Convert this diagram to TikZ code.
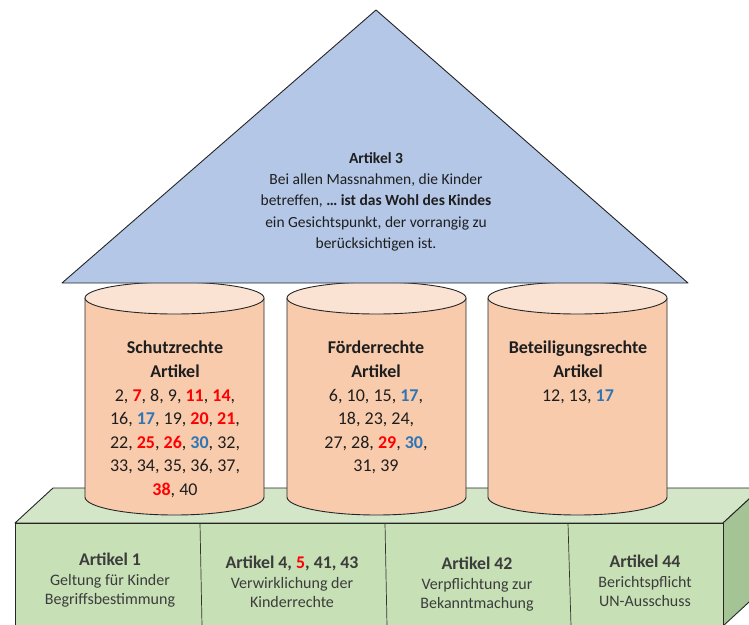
\documentclass[tikz,border=0pt]{standalone}
\usepackage{fontspec}
\setmainfont{Carlito}
\definecolor{triblue}{HTML}{B4C7E7}
\definecolor{cylbody}{HTML}{F8CBAD}
\definecolor{cyltop}{HTML}{FBE3D4}
\definecolor{topgreen}{HTML}{D3E6C8}
\definecolor{frontgreen}{HTML}{C7E0B6}
\definecolor{sidegreen}{HTML}{A4C496}
\definecolor{numred}{HTML}{FF0000}
\definecolor{numblue}{HTML}{2E75B6}
\definecolor{txtdark}{HTML}{1E1E1E}
\definecolor{txtgray}{HTML}{3C3C3C}
\newcommand\rd[1]{\textcolor{numred}{\textbf{#1}}}
\newcommand\bl[1]{\textcolor{numblue}{\textbf{#1}}}
\newcommand\bhead{\fontsize{17.8}{19.5}\selectfont\bfseries}
\newcommand\cylinderat[2]{%
  \pgfmathsetmacro\rxv{(#2-#1)/2}%
  \pgfmathsetmacro\cxv{(#1+#2)/2}%
  \fill[cylbody] (#1,298) -- (#1,497) arc[start angle=180,end angle=0,x radius=\rxv,y radius=18] -- (#2,298) -- cycle;
  \draw[outline] (#1,298) -- (#1,497) arc[start angle=180,end angle=0,x radius=\rxv,y radius=18] -- (#2,298);
  \filldraw[outline,fill=cyltop] (\cxv,298) ellipse[x radius=\rxv,y radius=16];
}
\begin{document}
\begin{tikzpicture}[x=1pt,y=-1pt,line join=round,
  outline/.style={draw=black!85,line width=0.9pt},
  tritext/.style={anchor=north,align=center,inner sep=0pt,text=txtdark,
    font=\fontsize{15.5}{21.3}\selectfont},
  cyltext/.style={anchor=north,align=center,inner sep=0pt,text=txtdark,
    font=\fontsize{18}{23.6}\selectfont},
  boxtext/.style={anchor=north,align=center,inner sep=0pt,text=txtgray,
    font=\fontsize{16}{19.3}\selectfont}]
\useasboundingbox (0,0) rectangle (749,624);
\begin{scope}
\clip (0,0) rectangle (749,624);
% base block
\filldraw[outline,fill=topgreen] (15,523) -- (53,488) -- (761,488) -- (723,523) -- cycle;
\filldraw[outline,fill=sidegreen] (723,523) -- (761,488) -- (761,591) -- (723,626) -- cycle;
\filldraw[outline,fill=frontgreen] (15,523) rectangle (723,626);
\coordinate (d1t) at (200,523); \coordinate (d1b) at (202,626);
\coordinate (d2t) at (385,523); \coordinate (d2b) at (387,626);
\coordinate (d3t) at (568,523); \coordinate (d3b) at (571,626);
\draw[draw=black!80,line width=0.7pt] (d1t) -- (d1b) (d2t) -- (d2b) (d3t) -- (d3b);
% pillars
\cylinderat{85}{264}
\cylinderat{287}{466}
\cylinderat{488}{667}
% roof
\filldraw[outline,fill=triblue] (376,10) -- (688,283) -- (62,283) -- cycle;
\end{scope}
% roof text
\node[tritext] (art3) at (376,152) {\textbf{Artikel 3}\\
  Bei allen Massnahmen, die Kinder\\
  betreffen, \textbf{… ist das Wohl des Kindes}\\
  ein Gesichtspunkt, der vorrangig zu\\
  berücksichtigen ist.};
% pillar text
\node[cyltext] (schutz) at (175,341) {\textbf{Schutzrechte}\\ \textbf{Artikel}\\
  2, \rd{7}, 8, 9, \rd{11}, \rd{14},\\
  16, \bl{17}, 19, \rd{20}, \rd{21},\\
  22, \rd{25}, \rd{26}, \bl{30}, 32,\\
  33, 34, 35, 36, 37,\\
  \rd{38}, 40};
\node[cyltext] (foerder) at (376,341) {\textbf{Förderrechte}\\ \textbf{Artikel}\\
  6, 10, 15, \bl{17},\\
  18, 23, 24,\\
  27, 28, \rd{29}, \bl{30},\\
  31, 39};
\node[cyltext] (beteil) at (578,341) {\textbf{Beteiligungsrechte}\\ \textbf{Artikel}\\
  12, 13, \bl{17}};
% base text
\node[boxtext] (a1) at (110,553) {{\bhead Artikel 1}\\ Geltung für Kinder\\ Begriffsbestimmung};
\node[boxtext] (a4) at (292,556) {{\bhead Artikel 4, \textcolor{numred}{5}, 41, 43}\\ Verwirklichung der\\ Kinderrechte};
\node[boxtext] (a42) at (477,557) {{\bhead Artikel 42}\\ Verpflichtung zur\\ Bekanntmachung};
\node[boxtext] (a44) at (645,555) {{\bhead Artikel 44}\\ Berichtspflicht\\ UN-Ausschuss};
\end{tikzpicture}
\end{document}
